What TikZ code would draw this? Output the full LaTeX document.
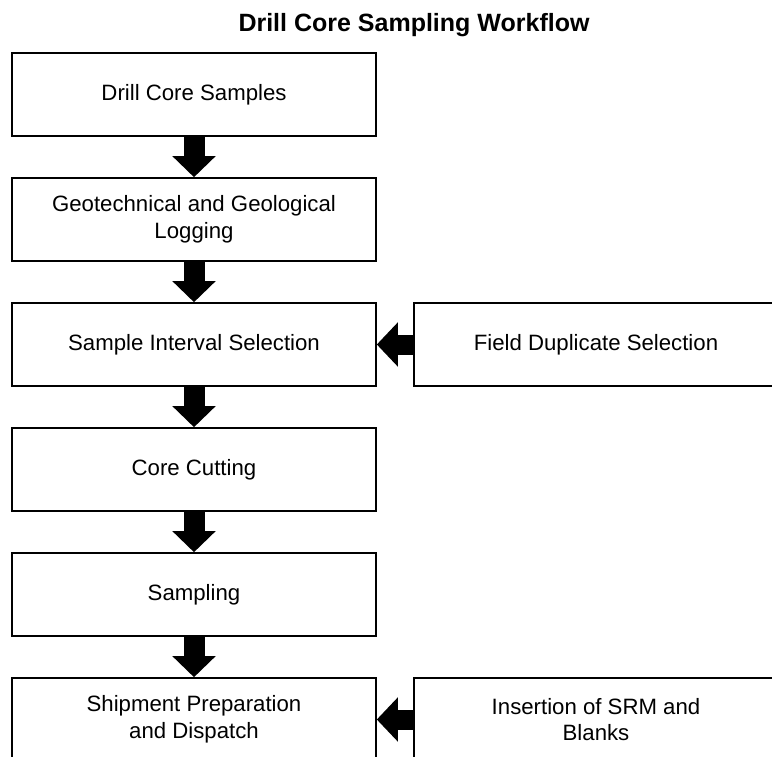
\documentclass[tikz,border=0pt]{standalone}
\usepackage{fontspec}
\setmainfont{Liberation Sans}
\usetikzlibrary{arrows.meta}
\tikzset{
  stage/.style={draw, line width=1.6pt, minimum width=364pt, minimum height=83pt, inner sep=0pt, align=center, font=\fontsize{22.2}{26.5}\selectfont},
  flow/.style={line width=21pt, -{Triangle[width=42pt,length=21pt]}},
  sideflow/.style={line width=20pt, -{Triangle[width=43pt,length=21pt]}}
}
\begin{document}
\begin{tikzpicture}[x=1pt,y=-1pt]
\clip (0,0) rectangle (772,757);
\fill[white] (0,0) rectangle (772,757);
\node[font=\fontsize{25}{28}\selectfont\bfseries] (title) at (414,25){Drill Core Sampling Workflow};
\node[stage] (core) at (194,94.5){Drill Core Samples};
\node[stage] (logging) at (194,219.5){Geotechnical and Geological\\Logging};
\node[stage] (interval) at (194,344.5){Sample Interval Selection};
\node[stage] (cutting) at (194,469.5){Core Cutting};
\node[stage] (sampling) at (194,594.5){Sampling};
\node[stage] (shipment) at (194,719.5){Shipment Preparation\\and Dispatch};
\node[stage] (dupl) at (596,344.5){Field Duplicate Selection};
\node[stage] (srm) at (596,719.5){Insertion of SRM and\\Blanks};
\draw[flow](core) -- (logging);
\draw[flow](logging) -- (interval);
\draw[flow](interval) -- (cutting);
\draw[flow](cutting) -- (sampling);
\draw[flow](sampling) -- (shipment);
\draw[sideflow](dupl) -- (interval);
\draw[sideflow](srm) -- (shipment);
\end{tikzpicture}
\end{document}
